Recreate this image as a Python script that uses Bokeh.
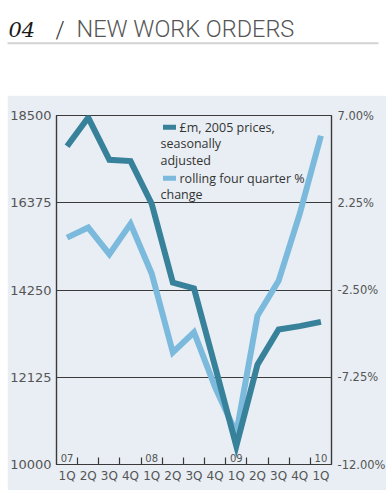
from bokeh.plotting import figure
from bokeh.models import Range1d, LinearAxis, FixedTicker, PrintfTickFormatter
from bokeh.core.properties import value
from bokeh.embed import file_html
from bokeh.resources import INLINE

# ---------------- data ----------------
quarters = ["1Q", "2Q", "3Q", "4Q", "1Q", "2Q", "3Q", "4Q", "1Q", "2Q", "3Q", "4Q", "1Q"]
years = ["07", "08", "09", "10"]
orders_gbp_m = [17750, 18450, 17420, 17390, 16350, 14430, 14290, 12380, 10450, 12430, 13290, 13370, 13475]
rolling_pct = [0.35, 0.90, -0.55, 1.10, -1.60, -5.90, -4.80, -7.80, -10.30, -3.90, -2.00, 1.65, 5.90]
left_ticks = [10000, 12125, 14250, 16375, 18500]
right_ticks = [-12.0, -7.25, -2.5, 2.25, 7.0]
series_labels = [["£m, 2005 prices,", "seasonally", "adjusted"],
                 ["rolling four quarter %", "change"]]
title_number = "04"
title_text = "NEW WORK ORDERS"

# ---------------- style ----------------
BG = "#e8eef3"
DARK = "#37829a"
LIGHT = "#7bbadc"
FRAME = "#3a3a3a"
TXT = "#555555"

# ---------------- title strip (page y 0..95) ----------------
TW, TH = 386, 95
t = figure(width=TW, height=TH, x_range=Range1d(0, TW), y_range=Range1d(TH, 0),
           output_backend="svg", toolbar_location=None, min_border=0,
           x_axis_location=None, y_axis_location=None, outline_line_color=None,
           background_fill_color="white", border_fill_color="white")
t.grid.visible = False
t.text(x=[8], y=[28.5], text=[title_number], text_font=value("DejaVu Serif"),
       text_font_style="italic", text_font_size="21px", text_color="#1a1a1a",
       text_baseline="alphabetic")
t.text(x=[55], y=[29.5], text=["/"], text_font=value("Roboto Light"),
       text_font_size="23px", text_color="#333333", text_baseline="alphabetic")
t.text(x=[76], y=[28.5], text=[title_text], text_font=value("Roboto Light"),
       text_font_size="23.5px", text_color="#555555", text_baseline="alphabetic")
t.segment(x0=[7], y0=[42.7], x1=[378], y1=[42.7], line_color="#d2d2d2", line_width=2)

# ---------------- chart (page x 7.., y 95..490) ----------------
PX0, PY0 = 7, 95            # page offset of the chart figure
FL, FT, FW, FH, FR, FBOT = 46, 20, 275, 349, 58, 26

idx = list(range(len(quarters)))
p = figure(frame_width=FW, frame_height=FH,
           x_range=Range1d(-0.5, len(quarters) - 0.5),
           y_range=Range1d(left_ticks[0], left_ticks[-1]),
           output_backend="svg", toolbar_location=None,
           min_border_left=FL, min_border_right=FR, min_border_top=FT, min_border_bottom=FBOT,
           background_fill_color=BG, border_fill_color=BG,
           outline_line_color=FRAME, outline_line_width=1.2)
p.margin = (0, 0, 0, PX0)
p.extra_y_ranges = {"pct": Range1d(right_ticks[0], right_ticks[-1])}

# axes
xa = p.xaxis[0]
xa.ticker = FixedTicker(ticks=idx, minor_ticks=[i + 0.5 for i in idx[:-1]])
xa.major_label_overrides = {i: q for i, q in zip(idx, quarters)}
xa.major_tick_in = 0
xa.major_tick_out = 0
xa.minor_tick_in = 7
xa.minor_tick_out = 0
xa.minor_tick_line_color = FRAME
xa.minor_tick_line_width = 1.2
xa.axis_line_color = FRAME
xa.axis_line_width = 1.2
xa.major_label_standoff = 4
xa.major_label_text_font = "DejaVu Sans"
xa.major_label_text_font_size = "12px"
xa.major_label_text_color = TXT

ya = p.yaxis[0]
ya.ticker = FixedTicker(ticks=left_ticks)
ya.major_tick_in = 0
ya.major_tick_out = 0
ya.minor_tick_line_color = None
ya.axis_line_color = FRAME
ya.axis_line_width = 1.2
ya.major_label_standoff = 5
ya.major_label_text_font = "DejaVu Sans"
ya.major_label_text_font_size = "13px"
ya.major_label_text_color = TXT

ra = LinearAxis(y_range_name="pct", ticker=FixedTicker(ticks=right_ticks),
                formatter=PrintfTickFormatter(format="%.2f%%"))
ra.major_tick_in = 0
ra.major_tick_out = 0
ra.minor_tick_line_color = None
ra.axis_line_color = FRAME
ra.axis_line_width = 1.2
ra.major_label_standoff = 6
ra.major_label_text_font = "DejaVu Sans"
ra.major_label_text_font_size = "11.5px"
ra.major_label_text_color = TXT
p.add_layout(ra, "right")

p.xgrid.visible = False
p.ygrid.ticker = FixedTicker(ticks=left_ticks)
p.ygrid.grid_line_color = FRAME
p.ygrid.grid_line_width = 1.2

# year labels inside the plot, above the quarter where each year starts
year_x = [i for i, q in enumerate(quarters) if q == "1Q"]
p.text(x=year_x, y=[left_ticks[0]] * len(year_x), text=years,
       text_font=value("DejaVu Sans"), text_font_size="10px", text_color=TXT,
       text_align="center", text_baseline="bottom", y_offset=-3)

# series
p.line(idx, rolling_pct, y_range_name="pct", line_color=LIGHT, line_width=6,
       line_join="miter")
p.line(idx, orders_gbp_m, line_color=DARK, line_width=6, line_join="miter")

# legend (positions in page pixels converted to data space)
def dx(px):
    return -0.5 + (px - PX0 - FL) * len(quarters) / FW
def dy(py):
    return left_ticks[-1] - (py - PY0 - FT) * (left_ticks[-1] - left_ticks[0]) / FH

legend_rows = [(126.7, DARK, series_labels[0]), (177.7, LIGHT, series_labels[1])]
for row_y, col, lines in legend_rows:
    p.segment(x0=[dx(159.5)], y0=[dy(row_y)], x1=[dx(172.5)], y1=[dy(row_y)],
              line_color=col, line_width=5)
    ys = [row_y + k * 16.6 for k in range(len(lines))]
    xs = [176] + [157] * (len(lines) - 1)
    p.text(x=[dx(v) for v in xs], y=[dy(v) for v in ys], text=lines,
           text_font=value("Open Sans"), text_font_size="12.5px", text_color="#333333",
           text_baseline="middle", text_align="left")

open("out.html", "w").write(file_html([t, p], INLINE))
